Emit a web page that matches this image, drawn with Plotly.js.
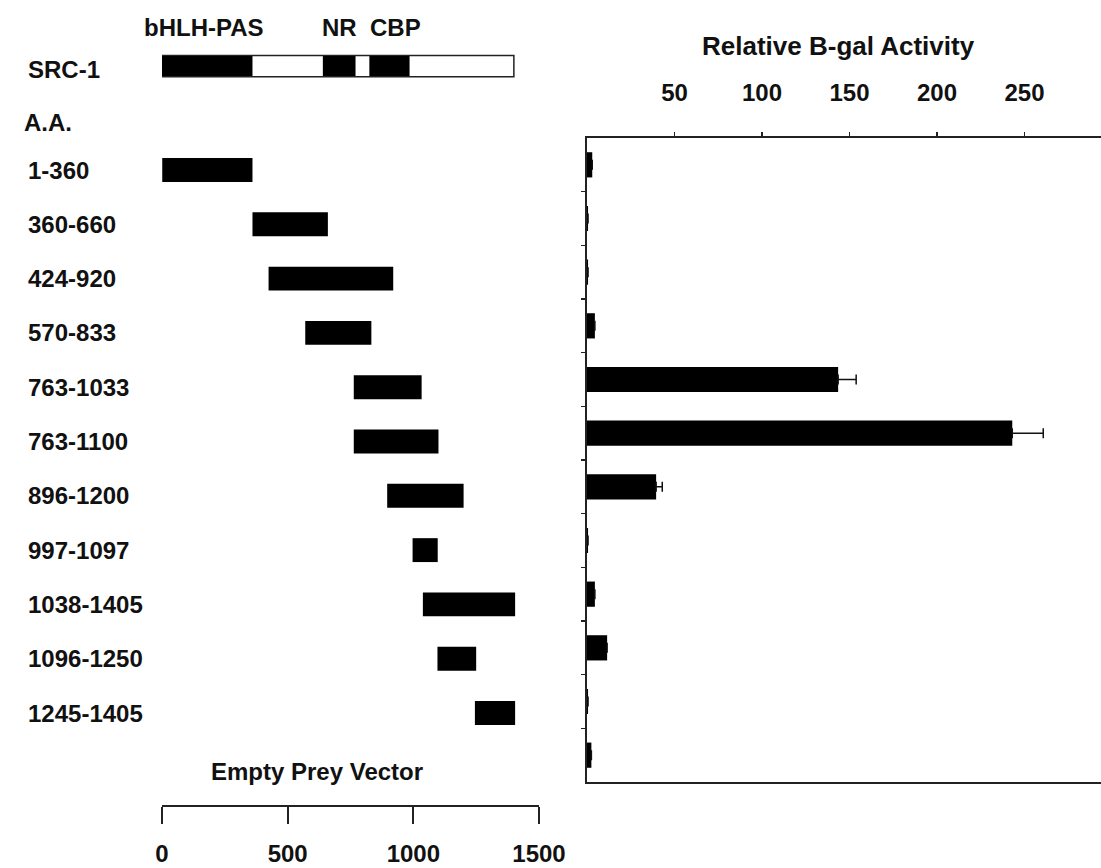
<!DOCTYPE html>
<html>
<head>
<meta charset="utf-8">
<script src="https://cdn.plot.ly/plotly-3.0.1.min.js"></script>
<style>html,body{margin:0;padding:0;background:#fff;}#chart{width:1101px;height:868px;}</style>
</head>
<body>
<div id="chart"></div>
<script>
// ---- data ----
const fragmentLabels = ['1-360','360-660','424-920','570-833','763-1033','763-1100','896-1200','997-1097','1038-1405','1096-1250','1245-1405'];
const fragmentStart = [1, 360, 424, 570, 763, 763, 896, 997, 1038, 1096, 1245];
const fragmentEnd   = [360, 660, 920, 833, 1033, 1100, 1200, 1097, 1405, 1250, 1405];

const activityLabels = ['1-360','360-660','424-920','570-833','763-1033','763-1100','896-1200','997-1097','1038-1405','1096-1250','1245-1405','Empty Prey Vector'];
const activityValues = [3, 0.6, 0.6, 4.5, 143.5, 243, 39.5, 0.6, 4.5, 11.5, 0.6, 2.5];
const activityErrors = [null, null, null, null, 10.3, 17.7, 3.5, null, null, null, null, null];

const proteinName = 'SRC-1';
const proteinLength = 1400;
const domainNames = ['bHLH-PAS', 'NR', 'CBP'];
const domainStart = [0, 640, 825];
const domainEnd   = [360, 770, 985];

const leftTicks = [0, 500, 1000, 1500];
const rightTicks = [50, 100, 150, 200, 250];

// ---- helpers (layout only) ----
const W = 1101, H = 868;
const px = v => v / W;
const py = v => 1 - v / H;
const FONT = {family: 'Liberation Sans, Arial, sans-serif', size: 24, color: '#111', weight: 'bold'};
const TITLEFONT = Object.assign({}, FONT, {size: 26});
const rowIdx = fragmentLabels.map((_, i) => i);
const emptyRow = fragmentLabels.length;
const domainRow = -1.915;
const domainLabelShift = [-3, 0, 6];

const traces = [];
// full protein outline
traces.push({
  type: 'bar', orientation: 'h', xaxis: 'x', yaxis: 'y',
  y: [domainRow], x: [proteinLength], base: [0], width: 0.39,
  marker: {color: '#fff', line: {color: '#222', width: 1.5}}, hoverinfo: 'skip'
});
// domains
traces.push({
  type: 'bar', orientation: 'h', xaxis: 'x', yaxis: 'y',
  y: domainNames.map(() => domainRow),
  x: domainStart.map((s, i) => domainEnd[i] - s), base: domainStart, width: 0.37,
  marker: {color: '#000'}, hoverinfo: 'skip'
});
// fragments
traces.push({
  type: 'bar', orientation: 'h', xaxis: 'x', yaxis: 'y',
  y: rowIdx, x: fragmentStart.map((s, i) => fragmentEnd[i] - s), base: fragmentStart, width: 0.44,
  marker: {color: '#000'}, hoverinfo: 'skip'
});
// activity
traces.push({
  type: 'bar', orientation: 'h', xaxis: 'x2', yaxis: 'y2',
  y: activityLabels.map((_, i) => i), x: activityValues, width: 0.47,
  marker: {color: '#000'},
  error_x: {type: 'data', symmetric: false, array: activityErrors, arrayminus: activityErrors.map(() => 0),
            color: '#111', thickness: 1.5, width: 5},
  hoverinfo: 'skip'
});

const annotations = [];
fragmentLabels.forEach((t, i) => annotations.push({
  text: t, xref: 'paper', yref: 'y', x: px(26), y: i, xanchor: 'left', yanchor: 'middle',
  showarrow: false, font: FONT
}));
annotations.push({text: 'Empty Prey Vector', xref: 'x', yref: 'y', x: 616, y: emptyRow + 0.07,
  xanchor: 'center', yanchor: 'middle', showarrow: false, font: FONT});
annotations.push({text: proteinName, xref: 'paper', yref: 'y', x: px(26), y: -1.86,
  xanchor: 'left', yanchor: 'middle', showarrow: false, font: FONT});
annotations.push({text: 'A.A.', xref: 'paper', yref: 'y', x: px(22), y: -0.884,
  xanchor: 'left', yanchor: 'middle', showarrow: false, font: FONT});
domainNames.forEach((t, i) => annotations.push({
  text: t, xref: 'x', yref: 'y', x: (domainStart[i] + domainEnd[i]) / 2, y: -2.633,
  xanchor: 'center', yanchor: 'middle', xshift: domainLabelShift[i], showarrow: false, font: FONT
}));
annotations.push({text: 'Relative B-gal Activity', xref: 'paper', yref: 'paper', x: px(838), y: py(46),
  xanchor: 'center', yanchor: 'middle', showarrow: false, font: TITLEFONT});

const layout = {
  width: W, height: H, margin: {l: 0, r: 0, t: 0, b: 0},
  paper_bgcolor: '#fff', plot_bgcolor: 'rgba(0,0,0,0)', showlegend: false, barmode: 'overlay',
  font: FONT,
  xaxis: {
    domain: [px(162), px(539)], range: [0, 1500], anchor: 'y',
    tickmode: 'array', tickvals: leftTicks, ticktext: leftTicks.map(String),
    ticks: 'outside', ticklen: 17, tickwidth: 2, tickcolor: '#222',
    showline: true, linecolor: '#222', linewidth: 2, showgrid: false, zeroline: false,
    tickfont: FONT, ticklabelstandoff: 9, fixedrange: true
  },
  yaxis: {
    domain: [py(805), py(10)], range: [11.694, -2.947], anchor: 'x',
    visible: false, showgrid: false, zeroline: false, fixedrange: true
  },
  xaxis2: {
    domain: [px(587), 1], range: [0, 293.7], anchor: 'y2', side: 'top',
    tickmode: 'array', tickvals: rightTicks, ticktext: rightTicks.map(String),
    ticks: 'outside', ticklen: 4, tickwidth: 1.5, tickcolor: '#222',
    showline: true, mirror: true, linecolor: '#222', linewidth: 2, showgrid: false, zeroline: false,
    tickfont: FONT, ticklabelstandoff: 21, fixedrange: true
  },
  yaxis2: {
    domain: [py(782), py(138)], range: [11.5, -0.5], anchor: 'x2',
    tickmode: 'array', tickvals: activityLabels.slice(1).map((_, i) => i + 0.5),
    ticks: 'outside', ticklen: 4, tickwidth: 1.2, tickcolor: '#222', showticklabels: false,
    showline: true, linecolor: '#222', linewidth: 2, showgrid: false, zeroline: false, fixedrange: true
  },
  annotations: annotations
};

Plotly.newPlot('chart', traces, layout, {staticPlot: true, displayModeBar: false});
</script>
</body>
</html>
